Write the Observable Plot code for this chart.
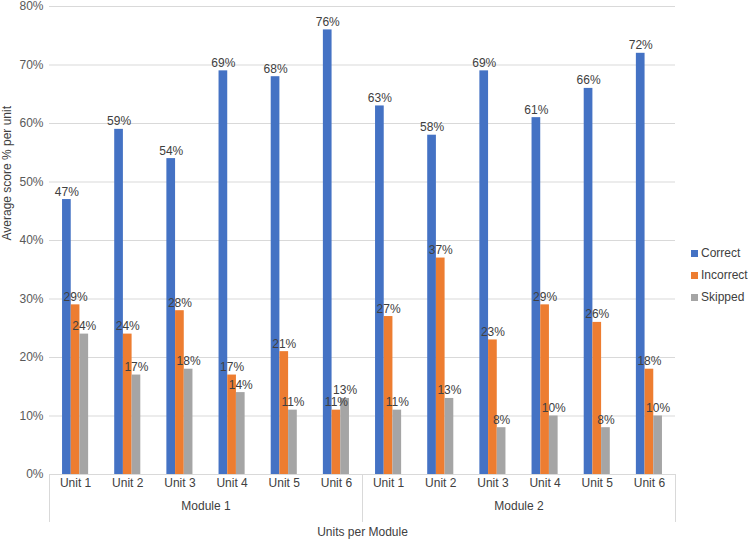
<!DOCTYPE html>
<html><head><meta charset="utf-8">
<script src="https://cdn.jsdelivr.net/npm/d3@7"></script>
<script src="https://cdn.jsdelivr.net/npm/@observablehq/plot@0.6"></script>
<style>
body{margin:0;background:#fff;font-family:"Liberation Sans",Arial,Helvetica,sans-serif;}
#wrap{position:relative;width:748px;height:543px;}
#legend{position:absolute;left:691px;top:242px;font-size:12px;color:#404040;}
#legend .item{height:22px;line-height:22px;white-space:nowrap;}
#legend .sw{display:inline-block;width:7px;height:7px;margin-right:3px;vertical-align:0px;}
</style></head><body><div id="wrap"></div>
<script>
const modules = ["Module 1", "Module 2"];
const units = ["Unit 1", "Unit 2", "Unit 3", "Unit 4", "Unit 5", "Unit 6"];
const series = ["Correct", "Incorrect", "Skipped"];
const colors = ["#4472C4", "#ED7D31", "#A5A5A5"];
const correct   = [47, 59, 54, 69, 68, 76, 63, 58, 69, 61, 66, 72];
const incorrect = [29, 24, 28, 17, 21, 11, 27, 37, 23, 29, 26, 18];
const skipped   = [24, 17, 18, 14, 11, 13, 11, 13, 8, 10, 8, 10];
const yTicks = [0, 10, 20, 30, 40, 50, 60, 70, 80];

const values = [correct, incorrect, skipped];
const groups = [];
modules.forEach((m, mi) => units.forEach((u, ui) => groups.push({g: mi * units.length + ui, module: m, unit: u})));
const rows = [];
groups.forEach(gr => series.forEach((s, si) => {
  const x1 = gr.g - 0.25 + si / 6;
  rows.push({g: gr.g, series: s, value: values[si][gr.g], x1, x2: x1 + 1 / 6, xm: x1 + 1 / 12});
}));
const moduleRows = modules.map((m, mi) => ({module: m, center: mi * units.length + (units.length - 1) / 2}));
const separators = d3.range(modules.length + 1).map(i => i * units.length - 0.5);

const font = '"Liberation Sans", Arial, Helvetica, sans-serif';
const chart = Plot.plot({
  width: 748, height: 543,
  marginLeft: 49, marginRight: 73, marginTop: 6, marginBottom: 69,
  style: {fontFamily: font, fontSize: "12px", color: "#595959", background: "white"},
  x: {domain: [-0.5, groups.length - 0.5], axis: null},
  y: {domain: [0, 80]},
  color: {domain: series, range: colors},
  marks: [
    Plot.gridY(yTicks, {stroke: "#d9d9d9", strokeOpacity: 1}),
    Plot.axisY(yTicks, {tickSize: 0, tickPadding: 6, tickFormat: d => d + "%", label: null, fill: "#595959", fontSize: 12}),
    Plot.ruleY([0], {stroke: "#d9d9d9"}),
    Plot.ruleX(separators, {x: d => d, y1: 0, y2: -8.2, stroke: "#d9d9d9"}),
    Plot.rectY(rows, {x1: "x1", x2: "x2", y: "value", fill: "series"}),
    Plot.text(rows, {x: "xm", y: "value", text: d => d.value + "%", lineAnchor: "bottom", dy: -4, fill: "#404040", fontSize: 12}),
    Plot.text(groups, {x: "g", text: "unit", frameAnchor: "bottom", dy: 12, fill: "#404040", fontSize: 12}),
    Plot.text(moduleRows, {x: "center", text: "module", frameAnchor: "bottom", dy: 35, fill: "#404040", fontSize: 12}),
    Plot.text(["Units per Module"], {text: d => d, frameAnchor: "bottom", dy: 61, fill: "#404040", fontSize: 12}),
    Plot.text(["Average score % per unit"], {text: d => d, frameAnchor: "left", dx: -42, rotate: -90, fill: "#404040", fontSize: 12})
  ]
});
const wrap = document.getElementById("wrap");
wrap.appendChild(chart);
const legend = document.createElement("div");
legend.id = "legend";
series.forEach((s, i) => {
  const item = document.createElement("div");
  item.className = "item";
  const sw = document.createElement("span");
  sw.className = "sw";
  sw.style.background = colors[i];
  item.appendChild(sw);
  item.appendChild(document.createTextNode(s));
  legend.appendChild(item);
});
wrap.appendChild(legend);
</script>
</body></html>
